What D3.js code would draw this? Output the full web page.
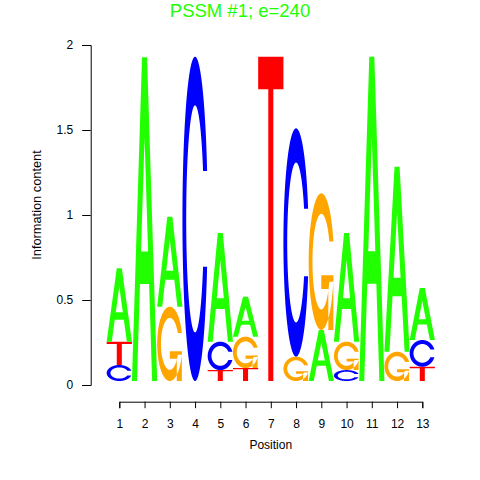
<!DOCTYPE html>
<html>
<head>
<meta charset="utf-8">
<script src="https://cdn.jsdelivr.net/npm/d3@7"></script>
<style>
  body { margin: 0; background: #fff; }
  text { font-family: "Liberation Sans", Arial, sans-serif; }
</style>
</head>
<body>
<div id="chart"></div>
<script>
// positions along the motif
var positions = [1, 2, 3, 4, 5, 6, 7, 8, 9, 10, 11, 12, 13]

// information content carried by each base at each position (bits)
var heightA = [0.437, 1.927, 0.536, 0, 0.647, 0.238, 0, 0, 0.304, 0.647, 1.93, 1.102, 0.310]
var heightC = [0.095, 0, 0, 1.93, 0.169, 0, 0, 1.359, 0, 0.065, 0, 0, 0.159]
var heightG = [0, 0, 0.442, 0, 0, 0.187, 0, 0.145, 0.813, 0.169, 0, 0.174, 0]
var heightT = [0.139, 0, 0, 0, 0.065, 0.077, 1.93, 0, 0, 0, 0, 0, 0.085]

var yTicks = [0, 0.5, 1, 1.5, 2]
var titleText = "PSSM #1; e=240"

var baseColor = {A: "#22ff00", C: "#0000ff", G: "#ffa500", T: "#ff0000"}

var width = 480, height = 480

var svg = d3.select("#chart")
  .append("svg")
    .attr("width", width)
    .attr("height", height)

// scales
var x = d3.scaleLinear().domain([1, 13]).range([119.3, 422.3])
var y = d3.scaleLinear().domain([0, 2]).range([385, 45])
// letters sit on a slightly raised baseline, as in the original logo
var yL = d3.scaleLinear().domain([0, 2]).range([381, 45])

// ---- letter outlines in a unit box (x right, y up) ----
function seq(a, b, n) {
  var out = []
  for (var i = 0; i < n; i++) out.push(a + (b - a) * i / (n - 1))
  return out
}

function ringPoints() {
  var a1 = seq(0.3 + Math.PI / 2, Math.PI, 100)
  var a2 = seq(Math.PI, 1.5 * Math.PI, 100)
  var l = a1.concat(a2).map(function(a) { return [0.5 + 0.5 * Math.sin(a), 0.5 + 0.5 * Math.cos(a)] })
  var h1 = d3.max(a1, function(a) { return 0.5 + 0.5 * Math.cos(a) })
  var outer = l.concat(l.slice().reverse().map(function(p) { return [p[0], 1 - p[1]] }))
  var i1 = a1.map(function(a) { return [0.5 + 0.35 * Math.sin(a), 0.5 + 0.35 * Math.cos(a)] })
    .filter(function(p) { return p[1] <= h1 })
  i1[0] = [i1[0][0], h1]
  var i2 = a2.map(function(a) { return [0.5 + 0.35 * Math.sin(a), 0.5 + 0.35 * Math.cos(a)] })
  var inn = i1.concat(i2)
  var inner = inn.concat(inn.slice().reverse().map(function(p) { return [p[0], 1 - p[1]] }))
  return {ring: outer.concat(inner.reverse()), r1: 0.5 + 0.5 * Math.sin(a1[0])}
}

var ring = ringPoints()

var shapes = {
  A: [
    [[0, 0], [0.4, 1], [0.6, 1], [1, 0], [0.8, 0], [0.68, 0.3], [0.32, 0.3], [0.2, 0]],
    [[0.36, 0.4], [0.5, 0.75], [0.64, 0.4]]
  ],
  C: [ring.ring],
  G: [
    ring.ring,
    [[ring.r1, 0.4], [0.5, 0.4], [0.5, 0.3], [ring.r1 - 0.2, 0.3], [ring.r1 - 0.2, 0], [ring.r1, 0]]
  ],
  T: [
    [[0, 1], [1, 1], [1, 0.9], [0.6, 0.9], [0.6, 0], [0.4, 0], [0.4, 0.9], [0, 0.9]]
  ]
}

// build the stacks: smallest letter at the bottom
var stacks = []
positions.forEach(function(p, i) {
  var col = [
    {base: "A", h: heightA[i]},
    {base: "C", h: heightC[i]},
    {base: "G", h: heightG[i]},
    {base: "T", h: heightT[i]}
  ].filter(function(d) { return d.h > 0 })
  col.sort(function(a, b) { return a.h - b.h })
  var y0 = 0
  col.forEach(function(d) {
    stacks.push({pos: p, base: d.base, y0: y0, y1: y0 + d.h})
    y0 += d.h
  })
})

var line = d3.line()

function letterPath(d) {
  var x0 = x(d.pos - 0.5), x1 = x(d.pos + 0.5)
  var top = yL(d.y1), bot = yL(d.y0)
  return shapes[d.base].map(function(poly) {
    return line(poly.map(function(pt) {
      return [x0 + pt[0] * (x1 - x0), bot - pt[1] * (bot - top)]
    })) + "Z"
  }).join("")
}

svg.append("g")
  .selectAll("path")
  .data(stacks)
  .enter().append("path")
    .attr("d", letterPath)
    .attr("fill", function(d) { return baseColor[d.base] })
    .attr("fill-rule", "evenodd")

// x axis
var xAxis = svg.append("g")
  .attr("transform", "translate(0,401.7)")
  .call(d3.axisBottom(x).tickValues(positions).tickFormat(d3.format("d")).tickSizeOuter(0).tickSize(6.5).tickPadding(11))
xAxis.selectAll("text").attr("font-size", 12).attr("fill", "#000")
xAxis.selectAll("line, path").attr("stroke", "#000")
xAxis.attr("font-family", null)

// y axis
var yAxis = svg.append("g")
  .attr("transform", "translate(90.7,0)")
  .call(d3.axisLeft(y).tickValues(yTicks).tickFormat(function(d) { return d }).tickSizeOuter(0).tickSize(8.5).tickPadding(9))
yAxis.selectAll("text").attr("font-size", 12).attr("fill", "#000")
yAxis.selectAll("line, path").attr("stroke", "#000")
yAxis.attr("font-family", null)

// labels
svg.append("text")
  .attr("x", x(7))
  .attr("y", 449)
  .attr("text-anchor", "middle")
  .attr("font-size", 12)
  .text("Position")

svg.append("text")
  .attr("transform", "translate(41,205) rotate(-90)")
  .attr("text-anchor", "middle")
  .attr("font-size", 12.8)
  .text("Information content")

svg.append("text")
  .attr("x", 240)
  .attr("y", 17)
  .attr("text-anchor", "middle")
  .attr("font-size", 18.5)
  .attr("fill", baseColor.A)
  .text(titleText)
</script>
</body>
</html>
